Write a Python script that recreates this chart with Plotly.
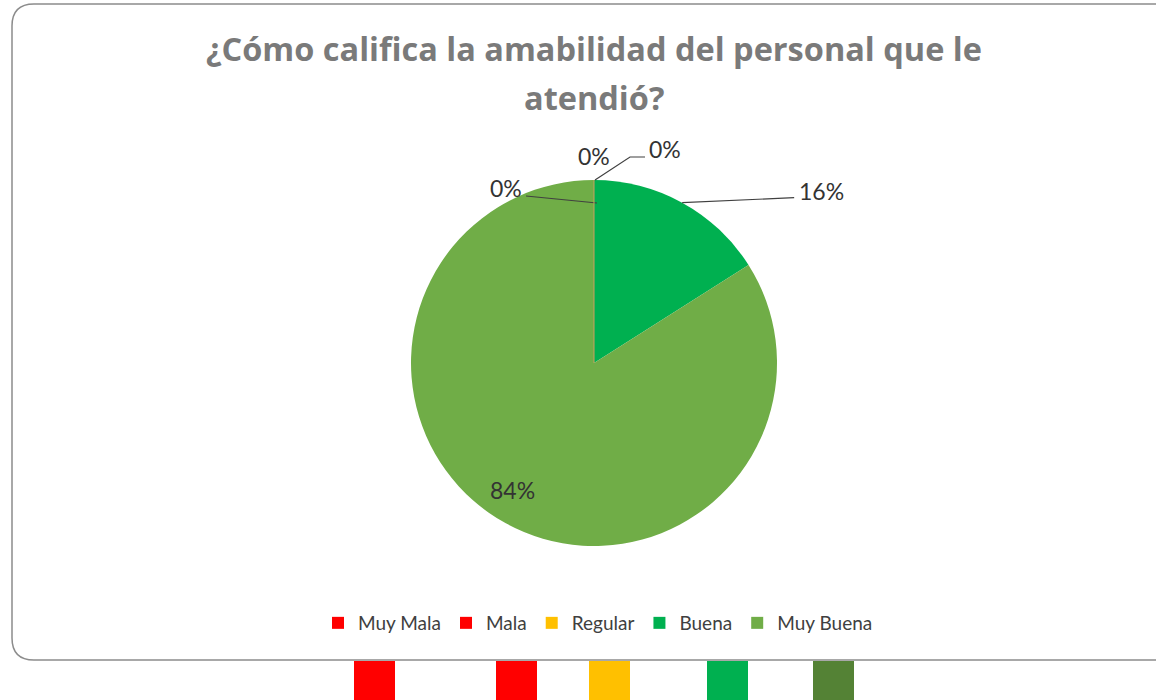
import math
import plotly.graph_objects as go

# ---------------- data ----------------
categories = ["Muy Mala", "Mala", "Regular", "Buena", "Muy Buena"]
values = [0, 0, 0, 16, 84]
colors = ["#FF0000", "#FF0000", "#FFC000", "#00B050", "#70AD47"]
title_lines = ["¿Cómo califica la amabilidad del personal que le", "atendió?"]

# decorative slide swatches below the chart frame
swatch_colors = ["#FF0000", "#FF0000", "#FFC000", "#00B050", "#548235"]

# ---------------- layout helpers ----------------
W, H = 1156, 700
CX, CY, R = 594, 363, 183
FONT = "Lato"


def px(x):
    return x / W


def py(y):
    return 1 - y / H


fig = go.Figure(
    go.Pie(
        labels=categories,
        values=values,
        sort=False,
        direction="clockwise",
        rotation=0,
        marker=dict(colors=colors, line=dict(width=0)),
        textinfo="none",
        hoverinfo="label+percent",
        domain=dict(x=[px(CX - R), px(CX + R)], y=[py(CY + R), py(CY - R)]),
        showlegend=True,
    )
)

total = sum(values)
pcts = [round(v / total * 100) for v in values]

# angle (degrees clockwise from 12 o'clock) of each slice's middle
mids = []
acc = 0
for v in values:
    mids.append((acc + v / 2) / total * 360)
    acc += v


def edge_point(angle, frac=1.0):
    a = math.radians(angle)
    return CX + frac * R * math.sin(a), CY - frac * R * math.cos(a)


annotations = []
shapes = []

# label placement (layout only): offset of label from slice anchor, leader line
label_specs = {
    "Muy Mala": dict(label_dx=-70, label_dy=8, anchor="right", line=[(-68, 16), (3, 23)]),
    "Mala": dict(label_dx=0, label_dy=-24, anchor="center", line=None),
    "Regular": dict(label_dx=53, label_dy=-31, anchor="left", line=[(1, 0), (36, -23), (51, -23)]),
    "Buena": dict(label_dx=115, label_dy=-12, anchor="left", line=[(0, 0), (112, -5)]),
}

label_font = dict(family=FONT, size=23, color="#333333")

for cat, pct, mid in zip(categories, pcts, mids):
    if cat == "Muy Buena":
        lx, ly = edge_point(mid, 0.82)
        annotations.append(dict(x=px(lx - 9), y=py(ly - 4), xref="paper", yref="paper",
                                text=f"{pct}%", showarrow=False, font=label_font,
                                xanchor="center", yanchor="middle"))
        continue
    ax, ay = edge_point(mid)
    spec = label_specs[cat]
    lx, ly = ax + spec["label_dx"], ay + spec["label_dy"]
    annotations.append(dict(x=px(lx), y=py(ly), xref="paper", yref="paper",
                            text=f"{pct}%", showarrow=False, font=label_font,
                            xanchor=spec["anchor"], yanchor="middle"))
    if spec["line"]:
        pts = [(ax + dx, ay + dy) for dx, dy in spec["line"]]
        path = "M " + " L ".join(f"{px(x):.5f},{py(y):.5f}" for x, y in pts)
        shapes.append(dict(type="path", path=path, xref="paper", yref="paper",
                           line=dict(color="#404040", width=1.2)))

# thin boundary of the zero-valued slices at 12 o'clock
tx, ty = edge_point(0)
shapes.append(dict(type="line", x0=px(CX), y0=py(CY), x1=px(tx), y1=py(ty),
                   xref="paper", yref="paper", line=dict(color="#C8A060", width=1)))

# title (two lines placed separately for Excel-like spacing)
for i, line in enumerate(title_lines):
    annotations.append(dict(x=px(594), y=py(48 + 49 * i), xref="paper", yref="paper",
                            text=line, showarrow=False,
                            font=dict(family="Open Sans", size=32.5, color="#7A7A7A", weight="bold"),
                            xanchor="center", yanchor="middle", align="center"))

# rounded chart frame (right side runs past the page)
fx0, fy0, fx1, fy1, rr = 12, 4, 1180, 660, 22
frame = (f"M {px(fx0 + rr)},{py(fy0)} L {px(fx1)},{py(fy0)} "
         f"M {px(fx1)},{py(fy1)} L {px(fx0 + rr)},{py(fy1)} "
         f"Q {px(fx0)},{py(fy1)} {px(fx0)},{py(fy1 - rr)} "
         f"L {px(fx0)},{py(fy0 + rr)} Q {px(fx0)},{py(fy0)} {px(fx0 + rr)},{py(fy0)}")
shapes.append(dict(type="path", path=frame, xref="paper", yref="paper",
                   line=dict(color="#8C8C8C", width=1.5)))

# decorative swatches
sw_x = [354, 496, 589, 707, 813]
for x0, c in zip(sw_x, swatch_colors):
    shapes.append(dict(type="rect", x0=px(x0), x1=px(x0 + 41), y0=0, y1=py(661),
                       xref="paper", yref="paper", fillcolor=c, line=dict(width=0)))

fig.update_layout(
    width=W,
    height=H,
    margin=dict(l=0, r=0, t=0, b=0),
    paper_bgcolor="white",
    plot_bgcolor="white",
    annotations=annotations,
    shapes=shapes,
    legend=dict(orientation="h", x=px(598), xanchor="center", y=py(623), yanchor="middle",
                font=dict(family=FONT, size=19, color="#404040"),
                itemwidth=30, tracegroupgap=0),
    font=dict(family=FONT),
)

fig.write_html("out.html", config={"displayModeBar": False},
               post_script="document.body.style.margin='0';document.body.style.overflow='hidden';")
